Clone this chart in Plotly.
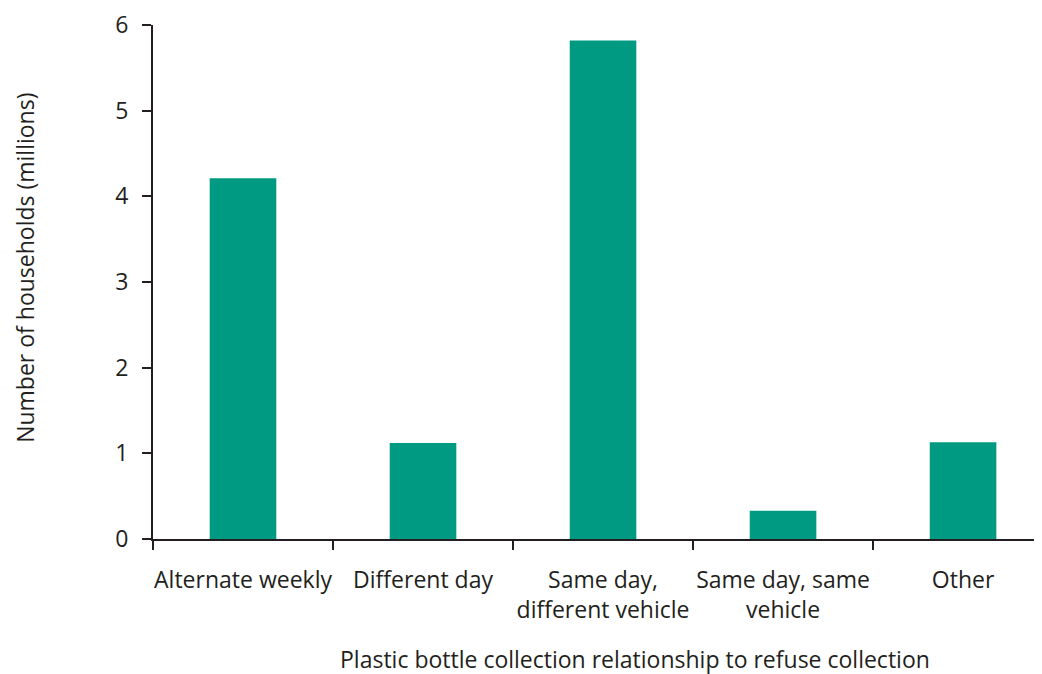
import plotly.graph_objects as go

categories = ["Alternate weekly", "Different day", "Same day,<br>different vehicle",
              "Same day, same<br>vehicle", "Other"]
households_millions = [4.21, 1.12, 5.82, 0.33, 1.13]
y_ticks = [0, 1, 2, 3, 4, 5, 6]
x_title = "Plastic bottle collection relationship to refuse collection"
y_title = "Number of households (millions)"

BAR = "#009a82"
INK = "#231f20"
FONT = "Open Sans"
FS = 23

fig = go.Figure(go.Bar(
    x=categories, y=households_millions, marker=dict(color=BAR, line=dict(width=0)),
    width=0.37,
))

fig.update_layout(
    width=1042, height=674,
    margin=dict(l=145, r=0, t=17, b=143, autoexpand=False),
    plot_bgcolor="white", paper_bgcolor="white",
    font=dict(family=FONT, size=FS, color=INK),
    showlegend=False,
    annotations=[
        dict(text=x_title, xref="paper", yref="paper", x=0.537, y=-0.233,
             xanchor="center", yanchor="middle", showarrow=False,
             font=dict(size=FS, color=INK)),
        dict(text=y_title, xref="paper", yref="paper", x=-0.143, y=0.527,
             xanchor="center", yanchor="middle", textangle=-90, showarrow=False,
             font=dict(size=FS, color=INK)),
    ],
)
fig.update_xaxes(
    type="category", range=[-0.5, 4.483], automargin=False,
    showline=True, linecolor=INK, linewidth=2,
    ticks="outside", ticklen=9, tickwidth=2, tickcolor=INK,
    tickson="boundaries", showgrid=False, zeroline=False,
    tickangle=0, ticklabelstandoff=19,
)
fig.update_yaxes(
    range=[0, 6], tickvals=y_ticks, automargin=False,
    showline=True, linecolor=INK, linewidth=2,
    ticks="outside", ticklen=9, tickwidth=2, tickcolor=INK,
    showgrid=False, zeroline=False,
    ticklabelstandoff=9,
)

fig.write_html("out.html")
